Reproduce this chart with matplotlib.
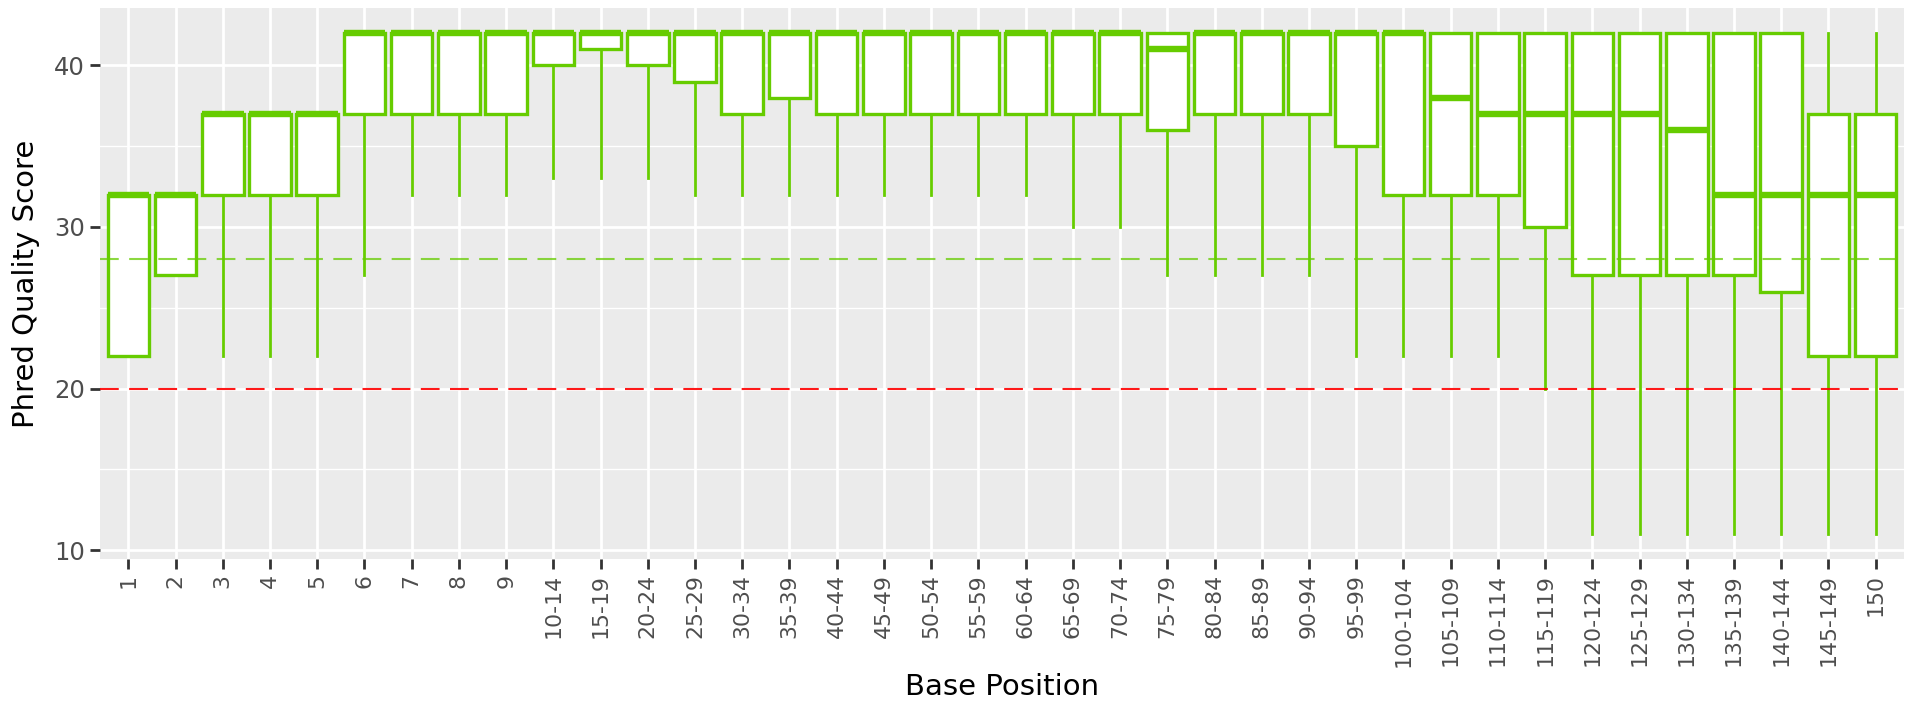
import matplotlib
matplotlib.use("Agg")
import matplotlib.pyplot as plt
from matplotlib.ticker import MultipleLocator

categories = ["1", "2", "3", "4", "5", "6", "7", "8", "9", "10-14", "15-19", "20-24",
              "25-29", "30-34", "35-39", "40-44", "45-49", "50-54", "55-59", "60-64",
              "65-69", "70-74", "75-79", "80-84", "85-89", "90-94", "95-99", "100-104",
              "105-109", "110-114", "115-119", "120-124", "125-129", "130-134",
              "135-139", "140-144", "145-149", "150"]
whisker_low = [22, 27, 22, 22, 22, 27, 32, 32, 32, 33, 33, 33, 32, 32, 32, 32, 32, 32, 32,
               32, 30, 30, 27, 27, 27, 27, 22, 22, 22, 22, 20, 11, 11, 11, 11, 11, 11, 11]
q1 = [22, 27, 32, 32, 32, 37, 37, 37, 37, 40, 41, 40, 39, 37, 38, 37, 37, 37, 37,
      37, 37, 37, 36, 37, 37, 37, 35, 32, 32, 32, 30, 27, 27, 27, 27, 26, 22, 22]
median = [32, 32, 37, 37, 37, 42, 42, 42, 42, 42, 42, 42, 42, 42, 42, 42, 42, 42, 42,
          42, 42, 42, 41, 42, 42, 42, 42, 42, 38, 37, 37, 37, 37, 36, 32, 32, 32, 32]
q3 = [32, 32, 37, 37, 37, 42, 42, 42, 42, 42, 42, 42, 42, 42, 42, 42, 42, 42, 42,
      42, 42, 42, 42, 42, 42, 42, 42, 42, 42, 42, 42, 42, 42, 42, 42, 42, 37, 37]
whisker_high = [32, 32, 37, 37, 37, 42, 42, 42, 42, 42, 42, 42, 42, 42, 42, 42, 42, 42, 42,
                42, 42, 42, 42, 42, 42, 42, 42, 42, 42, 42, 42, 42, 42, 42, 42, 42, 42, 42]
ref_good = 28
ref_bad = 20

green = "#66CC00"

fig = plt.figure(figsize=(19.05, 7.02), dpi=100)
ax = fig.add_axes([100 / 1905, 1 - 559 / 702, 1804 / 1905, 551 / 702])
ax.set_facecolor("#EBEBEB")

stats = []
for i, c in enumerate(categories):
    stats.append(dict(label=c, whislo=whisker_low[i], q1=q1[i], med=median[i],
                      q3=q3[i], whishi=whisker_high[i], fliers=[]))

positions = list(range(1, len(categories) + 1))
ax.bxp(stats, positions=positions, widths=0.88, patch_artist=True, showcaps=False,
       showfliers=False,
       boxprops=dict(facecolor="white", edgecolor=green, linewidth=2.4),
       medianprops=dict(color=green, linewidth=4.6, solid_capstyle="butt"),
       whiskerprops=dict(color=green, linewidth=2.0),
       zorder=3)

ax.axhline(ref_good, color=green, alpha=0.75, linewidth=1.5, linestyle=(0, (9, 5)), zorder=4)
ax.axhline(ref_bad, color="#FF0000", alpha=0.9, linewidth=1.5, linestyle=(0, (9, 5)), zorder=4)

n = len(categories)
ax.set_xlim(0.4, n + 0.6)
ax.set_ylim(9.45, 43.55)
ax.set_xticks(positions)
ax.set_xticklabels(categories, rotation=90)
ax.yaxis.set_major_locator(MultipleLocator(10))
ax.yaxis.set_minor_locator(MultipleLocator(5))

ax.grid(True, which="major", color="white", linewidth=2.0, zorder=0)
ax.grid(True, which="minor", axis="y", color="white", linewidth=1.0, zorder=0)
ax.set_axisbelow(True)
for s in ax.spines.values():
    s.set_visible(False)

ax.tick_params(axis="both", which="major", length=7, width=2.0, color="#333333",
               labelcolor="#4D4D4D", pad=4)
ax.tick_params(axis="x", which="major", labelsize=15.8)
ax.tick_params(axis="y", which="major", labelsize=17.5)
ax.tick_params(axis="y", which="minor", length=0)

ax.set_xlabel("Base Position", fontsize=21, color="black", va="center")
ax.set_ylabel("Phred Quality Score", fontsize=21, color="black", va="center")
ax.xaxis.set_label_coords(0.5, -0.232)
ax.yaxis.set_label_coords(-0.041, 0.5)

fig.savefig("out.png", dpi=100, facecolor="white")
